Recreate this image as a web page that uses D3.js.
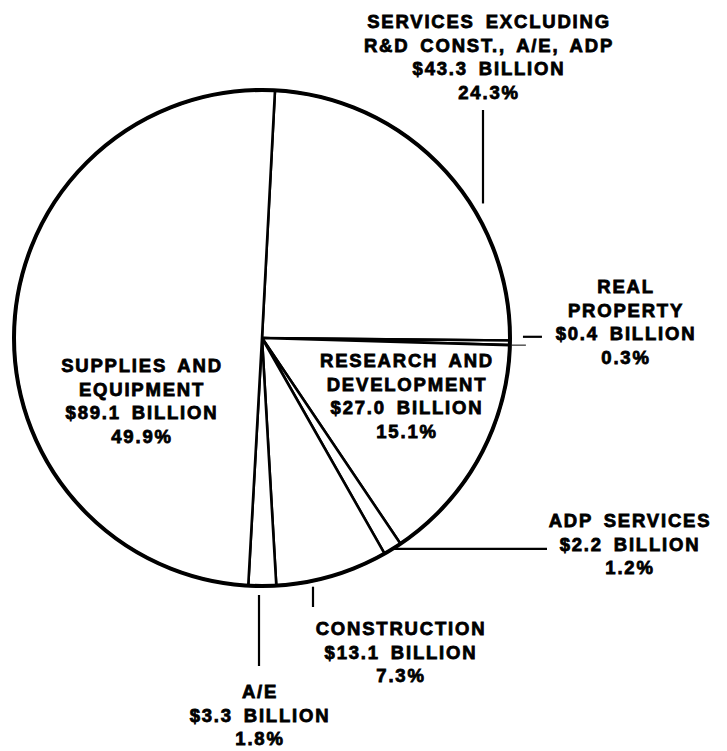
<!DOCTYPE html>
<html>
<head>
<meta charset="utf-8">
<script src="https://d3js.org/d3.v7.min.js"></script>
<style>
  body { margin: 0; background: #fff; }
  .slice { fill: #fff; stroke: #000; stroke-width: 2.6; stroke-linejoin: round; }
  .rim { fill: none; stroke: #000; stroke-width: 4; }
  .leader { stroke: #000; stroke-width: 2.2; }
  .label text {
    font-family: "Liberation Sans", Arial, sans-serif;
    font-weight: bold;
    font-size: 18.5px;
    letter-spacing: 1.8px;
    word-spacing: 4px;
    fill: #000;
    stroke: #000;
    stroke-width: 0.8;
  }
</style>
</head>
<body>
<svg id="pie"></svg>
<script>
const WIDTH  = 727;
const HEIGHT = 751;

// data, clockwise from the top
const names    = [["SERVICES EXCLUDING", "R&D CONST., A/E, ADP"],
                  ["REAL", "PROPERTY"],
                  ["RESEARCH AND", "DEVELOPMENT"],
                  ["ADP SERVICES"],
                  ["CONSTRUCTION"],
                  ["A/E"],
                  ["SUPPLIES AND", "EQUIPMENT"]];
const billions = [43.3, 0.4, 27.0, 2.2, 13.1, 3.3, 89.1];
const percents = [24.3, 0.3, 15.1, 1.2, 7.3, 1.8, 49.9];

// layout of the labels (centre x, first baseline)
const labelPos = [[489, 28], [626, 293], [407, 367], [630, 527], [401, 635], [260, 698], [142, 372]];
const LINE = 23.5;

const CX = 262, CY = 338, R = 248;
const START = 3 * Math.PI / 180;

const svg = d3.select('#pie')
  .attr('width', WIDTH)
  .attr('height', HEIGHT);

const g = svg.append('g')
  .attr('transform', 'translate(' + CX + ',' + CY + ')');

const pie = d3.pie()
  .sort(null)
  .value(d => d)
  .startAngle(START)
  .endAngle(START + 2 * Math.PI);

const arcs = pie(percents);
const arc = d3.arc().innerRadius(0).outerRadius(R);

g.selectAll('path.slice')
  .data(arcs)
  .enter()
  .append('path')
    .attr('class', 'slice')
    .attr('d', arc);

g.append('circle')
  .attr('class', 'rim')
  .attr('r', R);

// point on the rim for an angle measured clockwise from 12 o'clock
function rim(a, r) {
  return [r * Math.sin(a), -r * Math.cos(a)];
}
// rim y (below / above centre) for a given x offset
function rimY(dx, sign) {
  return sign * Math.sqrt(R * R - dx * dx);
}

const leaders = g.append('g');

// services: vertical line above the slice
(function() {
  const dx = 483 - CX;
  leaders.append('line').attr('class', 'leader')
    .attr('x1', dx).attr('x2', dx)
    .attr('y1', 110 - CY).attr('y2', rimY(dx, -1) - 22);
})();

// real property: short horizontal ticks at the slice
(function() {
  const a = arcs[1];
  const mid = (a.startAngle + a.endAngle) / 2;
  const p = rim(mid, R);
  leaders.append('line').attr('class', 'leader')
    .attr('x1', p[0] + 13).attr('x2', p[0] + 32)
    .attr('y1', p[1] - 6).attr('y2', p[1] - 6);
  const q = rim(a.endAngle, R);
  leaders.append('line').attr('class', 'leader')
    .style('stroke-width', 1)
    .attr('x1', q[0] + 2).attr('x2', q[0] + 16)
    .attr('y1', q[1]).attr('y2', q[1]);
})();

// adp: horizontal line out to the label
(function() {
  const a = arcs[3];
  const p = rim((a.startAngle + a.endAngle) / 2, R);
  leaders.append('line').attr('class', 'leader')
    .attr('x1', p[0]).attr('x2', 547 - CX)
    .attr('y1', p[1]).attr('y2', p[1]);
})();

// construction and a/e: vertical lines below the rim
[[313, 6, 607], [259, 9, 666]].forEach(function(l) {
  const dx = l[0] - CX;
  leaders.append('line').attr('class', 'leader')
    .attr('x1', dx).attr('x2', dx)
    .attr('y1', rimY(dx, 1) + l[1]).attr('y2', l[2] - CY);
});

// labels
const fmt = d3.format('.1f');
const labels = svg.append('g').attr('class', 'label');

names.forEach(function(n, i) {
  const lines = n.concat(['$' + fmt(billions[i]) + ' BILLION', percents[i] + '%']);
  const t = labels.append('text')
    .attr('text-anchor', 'middle');
  lines.forEach(function(s, j) {
    t.append('tspan')
      .attr('x', labelPos[i][0])
      .attr('y', labelPos[i][1] + j * LINE)
      .text(s);
  });
});
</script>
</body>
</html>
